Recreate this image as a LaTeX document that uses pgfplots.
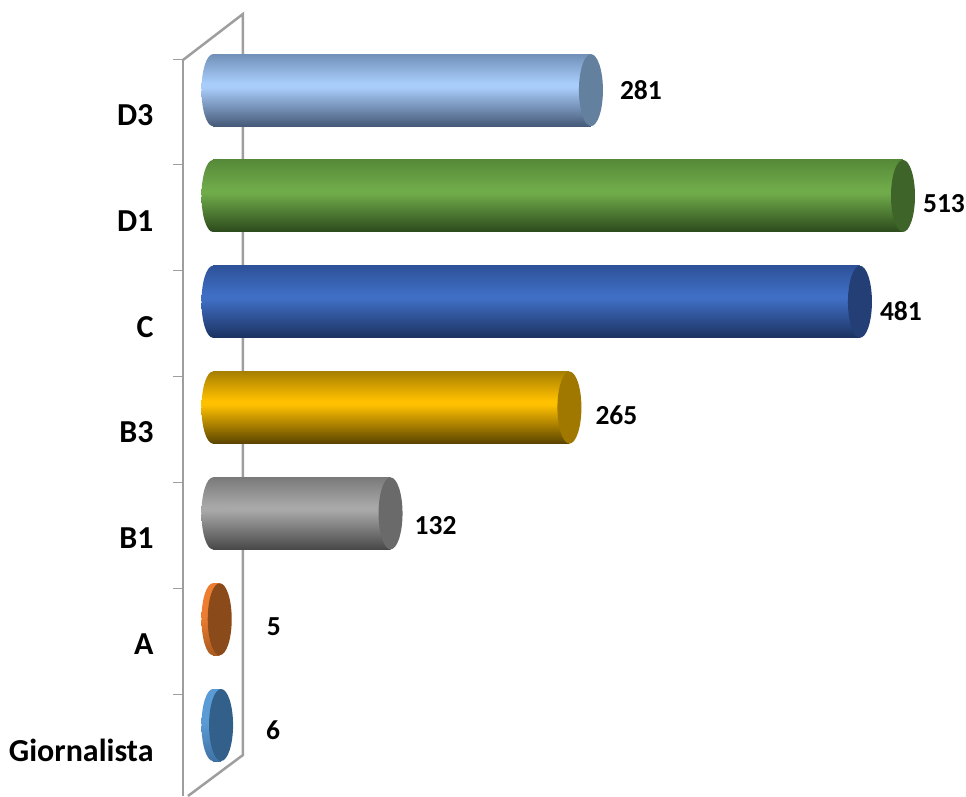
\documentclass[border=0pt]{standalone}
\usepackage{fontspec}
\setmainfont{Carlito}
\usepackage{pgfplots}
\pgfplotsset{compat=1.18}
\newcommand\defcyl[5]{%
  \definecolor{#1top}{HTML}{#2}\definecolor{#1mid}{HTML}{#3}\definecolor{#1bot}{HTML}{#4}\definecolor{#1cap}{HTML}{#5}%
  \pgfdeclareverticalshading{#1shade}{100bp}{color(0bp)=(#1bot);color(25bp)=(#1bot);color(52bp)=(#1mid);color(55bp)=(#1mid);color(75bp)=(#1top);color(100bp)=(#1top)}%
  \pgfdeclareplotmark{#1left}{\pgftext{\tikz\path[shading=#1shade] (0,0) ellipse (11.5pt and 36pt);}}%
  \pgfdeclareplotmark{#1right}{\pgftext{\tikz\path[fill=#1cap] (0,0) ellipse (12pt and 36pt);}}%
}
\defcyl{dt}{7090B8}{A9CDFB}{465A78}{64809F}
\defcyl{du}{568A38}{70AB4A}{2C4A1C}{3F6429}
\defcyl{cc}{2E5299}{3F6EC4}{1B3260}{233F76}
\defcyl{bt}{A88000}{FFC000}{594300}{A07800}
\defcyl{bu}{7A7A7A}{A8A8A8}{484848}{6A6A6A}
\defcyl{aa}{ED7D31}{ED7D31}{A85A20}{8A4A1A}
\defcyl{gg}{5B9BD5}{5B9BD5}{3F73A5}{33608A}
\newcommand\cyl[5]{% name, value, position, label xshift, label yshift
  \addplot[draw=none, only marks, mark=#1left] coordinates {(0,#3)};
  \addplot[xbar, bar shift=0pt, bar width=72pt, draw=none, shading=#1shade,
    nodes near coords,
    every node near coord/.style={anchor=center, xshift=#4pt, yshift=#5pt, font=\fontsize{27.5}{30}\selectfont\bfseries, text=black}]
    coordinates {(#2,#3)};
  \addplot[draw=none, only marks, mark=#1right] coordinates {(#2,#3)};
}
\begin{document}
\begin{tikzpicture}[x=1pt,y=1pt]
\path[use as bounding box] (0,0) rectangle (966,796);
\begin{axis}[
  at={(183pt,0pt)}, anchor=south west,
  scale only axis, width=783pt, height=736pt,
  xmin=-22.3, xmax=559.85, ymin=-0.671, ymax=6.285,
  clip=false,
  axis x line=none,
  axis y line*=left,
  /pgf/number format/assume math mode=true,
  axis line style={draw=black!38, line width=2.5pt, -},
  ytick={-0.236,0.764,1.764,2.764,3.764,4.764,5.764},
  yticklabels={Giornalista,A,B1,B3,C,D1,D3},
  yticklabel style={font=\fontsize{32}{34}\selectfont\bfseries, text=black, anchor=east, xshift=-26pt},
  minor ytick={0.293,1.293,2.293,3.293,4.293,5.293,6.285},
  major tick length=0pt,
  minor tick length=10pt,
  tick align=outside,
  minor tick style={draw=black!38, line width=1pt},
]
\addplot[draw=black!38, line width=2.5pt, no marks] coordinates {(-22.3,6.285) (22.3,6.72) (22.3,-0.2836) (-18.6,-0.671)};
\cyl{gg}{6}{0}{52}{-5}
\cyl{aa}{5}{1}{54}{-7}
\cyl{bu}{132}{2}{45}{-12}
\cyl{bt}{265}{3}{47}{-8}
\cyl{cc}{481}{4}{41}{-9}
\cyl{du}{513}{5}{41}{-8}
\cyl{dt}{281}{6}{50}{0}
\end{axis}
\end{tikzpicture}
\end{document}
